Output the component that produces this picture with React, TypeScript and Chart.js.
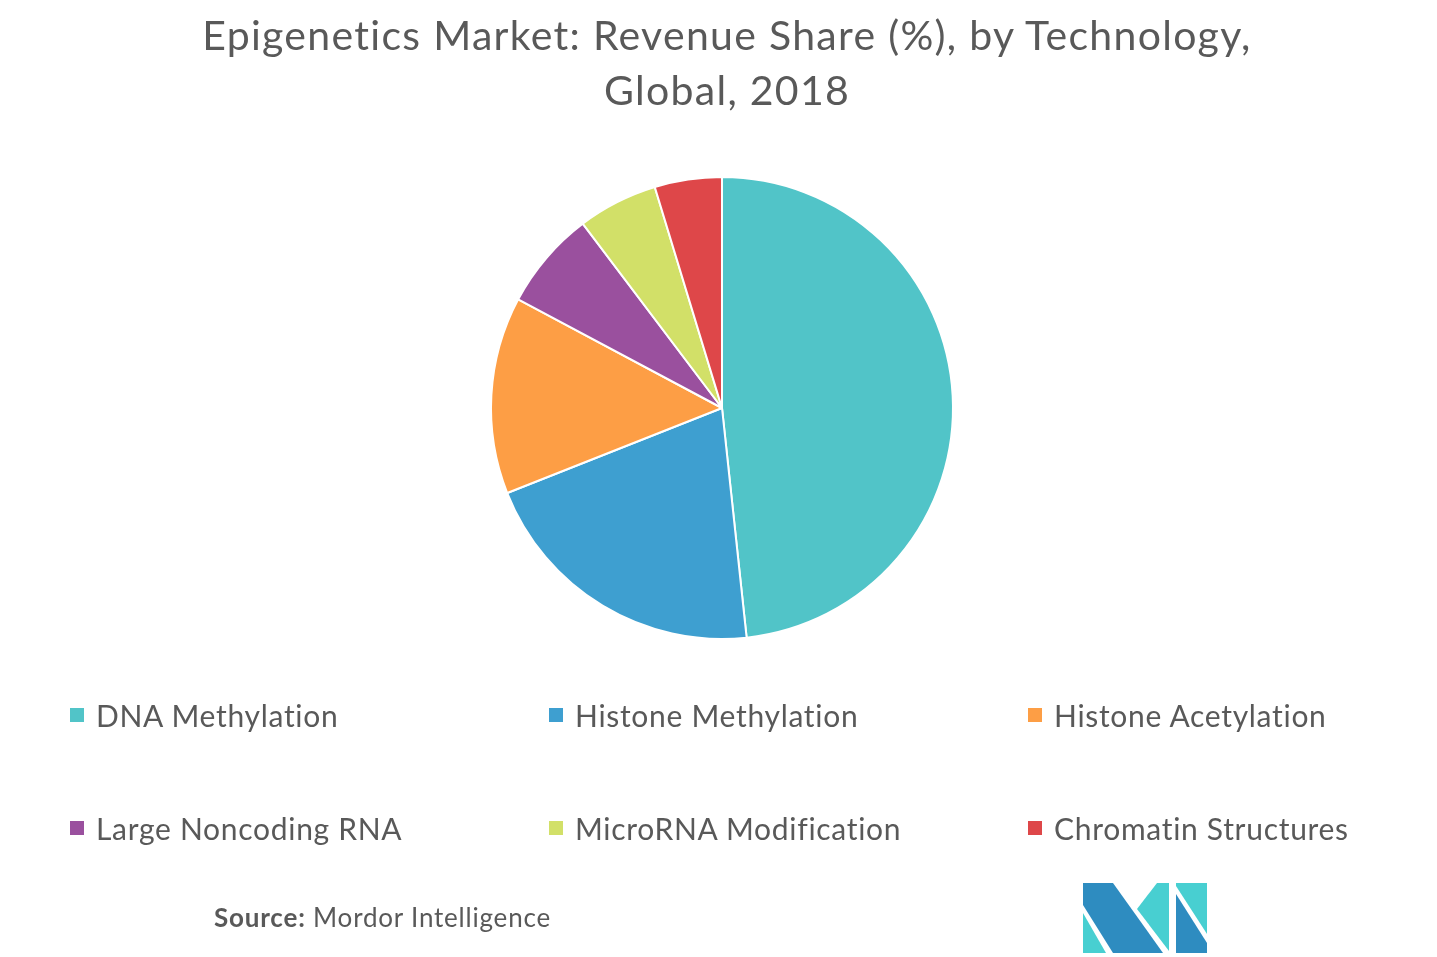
import React, { useEffect, useRef } from "react";
import { Chart, registerables } from "chart.js";

Chart.register(...registerables);

const categories = [
  "DNA Methylation",
  "Histone Methylation",
  "Histone Acetylation",
  "Large Noncoding RNA",
  "MicroRNA Modification",
  "Chromatin Structures",
];
const shares = [48.3, 20.7, 13.8, 6.9, 5.6, 4.7];
const colors = ["#51c4c8", "#3e9fd0", "#fd9e45", "#9a509e", "#d2e068", "#de4749"];

const titleLines = ["Epigenetics Market: Revenue Share (%), by Technology,", "Global, 2018"];

const FONT = "Lato, 'Open Sans', sans-serif";
const TEXT = "#595959";

export default function App() {
  const ref = useRef<HTMLCanvasElement | null>(null);

  useEffect(() => {
    document.body.style.margin = "0";
    const ctx = ref.current!.getContext("2d")!;
    const chart = new Chart(ctx, {
      type: "pie",
      data: {
        labels: categories,
        datasets: [
          {
            data: shares,
            backgroundColor: colors,
            borderColor: "#ffffff",
            borderWidth: 2,
          },
        ],
      },
      options: {
        animation: false,
        responsive: false,
        maintainAspectRatio: false,
        layout: { padding: { left: 490, right: 483, top: 176, bottom: 317 } },
        plugins: {
          legend: { display: false },
          title: { display: false },
          tooltip: { enabled: false },
        },
      },
    });
    return () => chart.destroy();
  }, []);

  const colX = [70, 549, 1028];
  const rowY = [715, 828];

  return (
    <div style={{ position: "absolute", left: 0, top: 0, width: 1437, height: 957, background: "#fff", fontFamily: FONT, color: TEXT }}>
      <canvas ref={ref} width={1437} height={957} style={{ position: "absolute", left: 0, top: 0 }} />
      {titleLines.map((t, i) => (
        <div
          key={i}
          style={{
            position: "absolute",
            left: 0,
            width: 1454,
            top: 11 + i * 55,
            textAlign: "center",
            fontSize: 41,
            lineHeight: "48px",
            letterSpacing: 1.3,
            whiteSpace: "nowrap",
          }}
        >
          {t}
        </div>
      ))}
      {categories.map((c, i) => {
        const x = colX[i % 3];
        const y = rowY[Math.floor(i / 3)];
        return (
          <div key={c} style={{ position: "absolute", left: x, top: y - 18, height: 36, display: "flex", alignItems: "center", whiteSpace: "nowrap" }}>
            <div style={{ width: 14, height: 14, background: colors[i], marginRight: 12 }} />
            <span style={{ fontSize: 30, letterSpacing: 0.7 }}>{c}</span>
          </div>
        );
      })}
      <div style={{ position: "absolute", left: 214, top: 901, fontSize: 26, letterSpacing: 0.8, whiteSpace: "nowrap" }}>
        <b>Source:</b> Mordor Intelligence
      </div>
      <svg style={{ position: "absolute", left: 0, top: 0 }} width={1437} height={957}>
        <polygon points="1083,883 1113,883 1163,953 1113,953 1083,905" fill="#2e8cc0" />
        <polygon points="1083,913 1083,953 1106,953" fill="#48cfd1" />
        <polygon points="1137,909 1157,883 1169,883 1169,951" fill="#48cfd1" />
        <polygon points="1176,883 1207,883 1207,934 1176,886" fill="#48cfd1" />
        <polygon points="1176,894 1207,943 1207,953 1176,953" fill="#2e8cc0" />
      </svg>
    </div>
  );
}
